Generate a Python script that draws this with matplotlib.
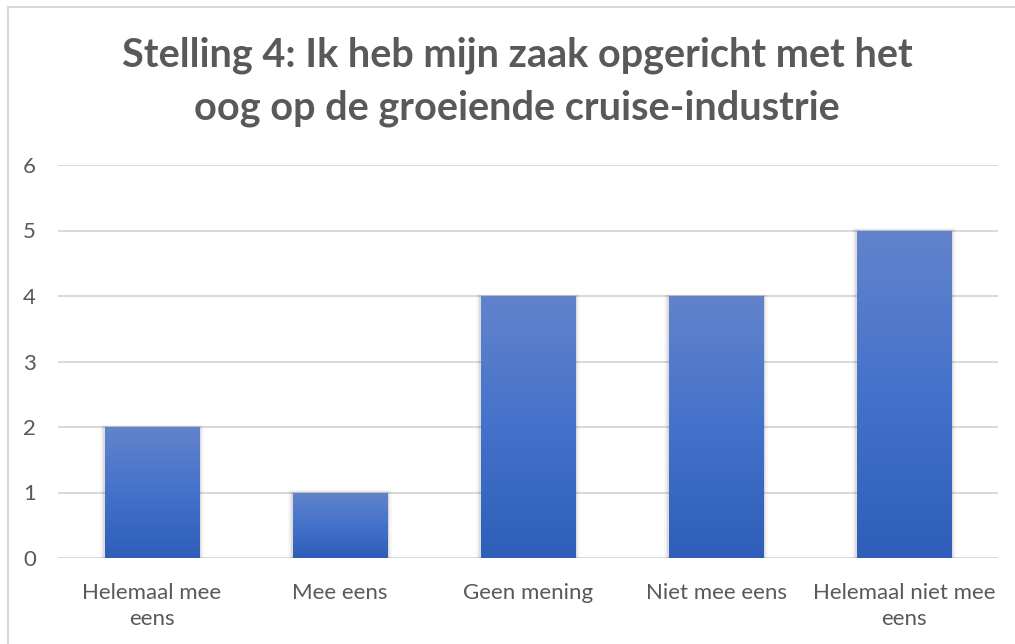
import numpy as np
import matplotlib
matplotlib.use("Agg")
import matplotlib.pyplot as plt
from matplotlib.patches import Rectangle
from matplotlib.colors import LinearSegmentedColormap
from matplotlib.lines import Line2D

categories = ["Helemaal mee\neens", "Mee eens", "Geen mening", "Niet mee eens", "Helemaal niet mee\neens"]
counts = [2, 1, 4, 4, 5]
title = "Stelling 4: Ik heb mijn zaak opgericht met het\noog op de groeiende cruise-industrie"

plt.rcParams["font.family"] = ["Lato", "DejaVu Sans"]
text_grey = "#595959"
grid_grey = "#D9D9D9"

fig = plt.figure(figsize=(10.15, 6.44), dpi=100)
W, H = 1015, 644
ax = fig.add_axes([58 / W, 1 - 558 / H, (998 - 58) / W, (558 - 165) / H])

ax.set_xlim(-0.5, len(categories) - 0.5)
ax.set_ylim(0, 6)
ax.set_yticks(range(0, 7))
ax.yaxis.grid(True, color=grid_grey, linewidth=1.4)
ax.set_axisbelow(True)
for s in ax.spines.values():
    s.set_visible(False)
ax.tick_params(axis="both", length=0, colors=text_grey, labelsize=16)
ax.tick_params(axis="y", pad=16)
ax.tick_params(axis="x", pad=18)
ax.set_xticks(range(len(categories)))
ax.set_xticklabels(categories, linespacing=1.4)

# vertical gradient, lighter at the top of every bar
cmap = LinearSegmentedColormap.from_list("bar", ["#2E5EB9", "#4472CA", "#6283CC"])
grad = np.linspace(0, 1, 256).reshape(-1, 1)
bw = 0.505
for i, v in enumerate(counts):
    x0 = i - bw / 2
    # faint shadow around the bar
    for k, a in [(0.025, 0.03), (0.015, 0.05), (0.008, 0.06)]:
        ax.add_patch(Rectangle((x0 - k, -0.03), bw + 2 * k, v + 0.03 + k * 1.5,
                               facecolor="black", edgecolor="none", alpha=a, zorder=2))
    rect = Rectangle((x0, 0), bw, v, facecolor="none", edgecolor="none", zorder=3)
    ax.add_patch(rect)
    im = ax.imshow(grad, cmap=cmap, origin="lower", aspect="auto",
                   extent=[x0, x0 + bw, 0, v], zorder=3, interpolation="bilinear")
    im.set_clip_path(rect)
ax.set_xlim(-0.5, len(categories) - 0.5)
ax.set_ylim(0, 6)

fig.text(517 / W, 1 - 82 / H, title, ha="center", va="center", fontsize=28.5,
         fontweight="bold", color=text_grey, linespacing=1.5)

# chart frame lines along the top and left edge
fig.add_artist(Line2D([7.5 / W, 7.5 / W], [0, 1 - 6.5 / H], color=grid_grey, linewidth=1.5))
fig.add_artist(Line2D([7.5 / W, 1], [1 - 6.5 / H, 1 - 6.5 / H], color=grid_grey, linewidth=1.5))

fig.savefig("out.png", dpi=100, facecolor="white")
